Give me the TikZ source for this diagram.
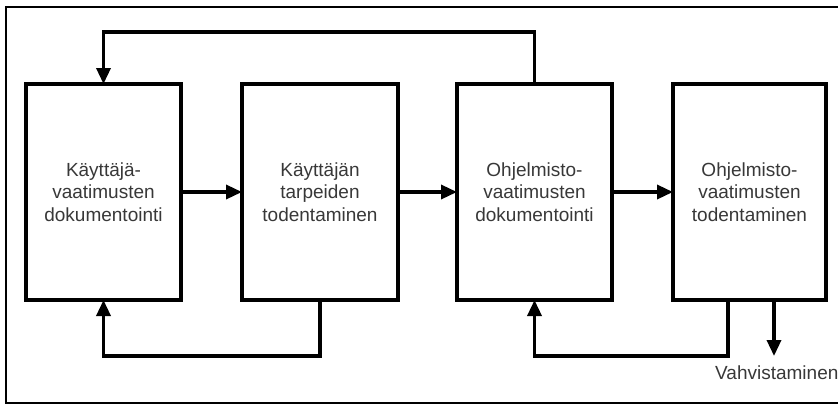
\documentclass[tikz,border=0pt]{standalone}
\usepackage{fontspec}
\setmainfont{Liberation Sans}
\usetikzlibrary{arrows.meta,positioning}

\begin{document}
\begin{tikzpicture}[x=1pt,y=-1pt,
    blk/.style={draw,line width=3.4pt,minimum height=216pt,inner sep=0pt,outer sep=0pt,
      align=center,text=black!78,font=\fontsize{19}{22.5}\selectfont},
    flow/.style={line width=3.4pt,-{Triangle[length=16pt,width=14pt]}}]
  \useasboundingbox (0,0) rectangle (838,405);
  \draw[line width=2.2pt] (845,7) -- (6,7) -- (6,403) -- (845,403);
  \foreach \n/\x/\w/\t in {1/103.5/155/{Käyttäjä-\\vaatimusten\\dokumentointi},
      2/320/156/{Käyttäjän\\tarpeiden\\todentaminen},
      3/534.5/155/{Ohjelmisto-\\vaatimusten\\dokumentointi},
      4/749.5/153/{Ohjelmisto-\\vaatimusten\\todentaminen}}
    \node[blk,minimum width=\w pt] (b\n) at (\x,192) {\t};
  \foreach \a/\b in {1/2,2/3,3/4}
    \draw[flow] (b\a) -- (b\b);

  \coordinate (top) at (0,32);
  \coordinate (low) at (0,356);
  \draw[flow] (b3.north) -- (b3.north |- top) -| (b1.north);
  \draw[flow] (b2.south) -- (b2.south |- low) -| (b1.south);
  \draw[flow] ([xshift=-21.5pt]b4.south) coordinate (b4out) -- (b4out |- low) -| (b3.south);

  \node[anchor=west,text=black!78,font=\fontsize{19}{22.5}\selectfont,inner sep=0pt] (vahv) at (715,373) {Vahvistaminen};
  \coordinate (vtip) at (774,356);
  \draw[flow] (b4.south -| vtip) -- (vtip);
\end{tikzpicture}
\end{document}
